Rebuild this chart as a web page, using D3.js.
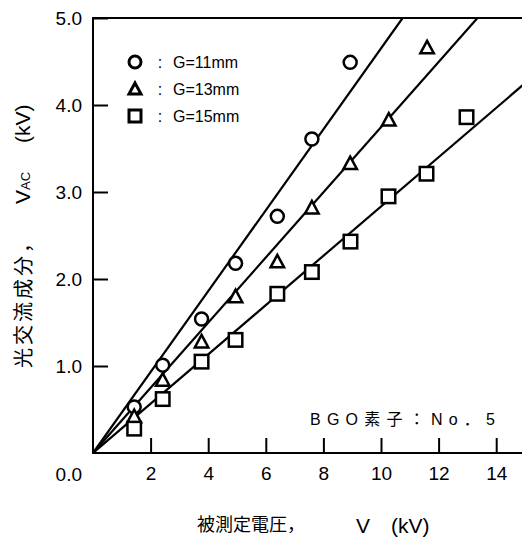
<!DOCTYPE html>
<html>
<head>
<meta charset="utf-8">
<script src="https://cdn.jsdelivr.net/npm/d3@7"></script>
<style>
body { margin: 0; background: #fff; }
text { font-family: "Liberation Sans", Arial, "Noto Sans CJK JP", sans-serif; fill: #000; }
.cjk { font-family: "Noto Sans CJK JP", "Liberation Sans", sans-serif; }
</style>
</head>
<body>
<div class="container"></div>
<script>
// tick values and labels
const xTicks = [2, 4, 6, 8, 10, 12, 14];
const yTicks = [1, 2, 3, 4, 5];
const gapLabels = ['G=11mm', 'G=13mm', 'G=15mm'];

// measured points, one pair of arrays per gap
const xG11 = [1.43, 2.42, 3.77, 4.95, 6.40, 7.60, 8.93];
const yG11 = [0.53, 1.01, 1.54, 2.18, 2.72, 3.61, 4.49];
const xG13 = [1.43, 2.42, 3.77, 4.95, 6.40, 7.60, 8.93, 10.27, 11.60];
const yG13 = [0.42, 0.84, 1.28, 1.80, 2.20, 2.82, 3.33, 3.83, 4.66];
const xG15 = [1.43, 2.42, 3.77, 4.95, 6.40, 7.60, 8.94, 10.26, 11.58, 12.97];
const yG15 = [0.28, 0.62, 1.05, 1.30, 1.83, 2.08, 2.43, 2.95, 3.21, 3.86];

// fitted lines through the origin, end points
const fitEndX = [10.75, 13.35, 15.0];
const fitEndY = [5.0, 5.0, 4.25];

const WIDTH = 522;
const HEIGHT = 537;
const X0 = 93, X1 = 525, Y0 = 453, Y1 = 18;

const svg = d3.select('.container').append('svg')
    .attr('width', WIDTH)
    .attr('height', HEIGHT);

const xScale = d3.scaleLinear().domain([0, 15]).range([X0, X1]);
const yScale = d3.scaleLinear().domain([0, 5]).range([Y0, Y1]);

svg.append('clipPath').attr('id', 'plot')
    .append('rect')
    .attr('x', X0).attr('y', Y1)
    .attr('width', X1 - X0).attr('height', Y0 - Y1);

// frame
svg.append('path')
    .attr('d', `M${X1},${Y1}H${X0}V${Y0}H${X1}`)
    .attr('fill', 'none')
    .attr('stroke', '#000')
    .attr('stroke-width', 2);

const xAxis = d3.axisBottom(xScale)
    .tickValues(xTicks)
    .tickFormat(d3.format('d'))
    .tickSizeInner(-15)
    .tickSizeOuter(0)
    .tickPadding(14);

const yAxis = d3.axisLeft(yScale)
    .tickValues(yTicks)
    .tickFormat(d3.format('.1f'))
    .tickSizeInner(-15)
    .tickSizeOuter(0)
    .tickPadding(11);

const gx = svg.append('g').attr('transform', `translate(0,${Y0})`).call(xAxis);
const gy = svg.append('g').attr('transform', `translate(${X0},0)`).call(yAxis);

[gx, gy].forEach(g => {
    g.select('.domain').remove();
    g.selectAll('line').attr('stroke-width', 2);
    g.selectAll('text')
        .style('font-family', '"Liberation Sans", Arial, sans-serif')
        .style('font-size', '19px');
});

svg.append('text')
    .attr('x', X0 - 11)
    .attr('y', Y0 + 21)
    .attr('text-anchor', 'end')
    .attr('dominant-baseline', 'central')
    .style('font-size', '19px')
    .text(d3.format('.1f')(0));

// fitted lines
const plot = svg.append('g').attr('clip-path', 'url(#plot)');
plot.selectAll('line.fit').data(fitEndX)
    .enter().append('line')
    .attr('class', 'fit')
    .attr('x1', xScale(0))
    .attr('y1', yScale(0))
    .attr('x2', d => xScale(d))
    .attr('y2', (d, i) => yScale(fitEndY[i]))
    .attr('stroke', '#000')
    .attr('stroke-width', 2.2);

// markers
const drawMarker = function (sel, kind, s, sw) {
    sel.each(function () {
        const m = d3.select(this);
        if (kind === 0) {
            m.append('circle').attr('r', s / 2);
        } else if (kind === 1) {
            m.append('path').attr('d', `M0,${-s / 2}L${s / 2},${s / 2 - 1}L${-s / 2},${s / 2 - 1}Z`);
        } else {
            m.append('rect').attr('x', -s / 2).attr('y', -s / 2).attr('width', s).attr('height', s);
        }
        m.selectAll('*').attr('fill', '#fff').attr('stroke', '#000').attr('stroke-width', sw);
    });
};

const series = [[xG11, yG11], [xG13, yG13], [xG15, yG15]];
series.forEach((s, k) => {
    const pts = s[0].map((x, i) => ({ x: x, y: s[1][i] }));
    svg.append('g').selectAll('g').data(pts)
        .enter().append('g')
        .attr('transform', d => `translate(${xScale(d.x)},${yScale(d.y)})`)
        .call(drawMarker, k, k === 0 ? 13 : 13.5, 2.5);
});

// legend
const legend = svg.append('g');
gapLabels.forEach((lab, i) => {
    const row = legend.append('g').attr('transform', `translate(0,${62 + i * 27})`);
    row.append('g').attr('transform', 'translate(135,0)').call(drawMarker, i, 12, 3);
    row.append('text').attr('x', 160).attr('dominant-baseline', 'central')
        .attr('text-anchor', 'middle').style('font-size', '16px').text(':');
    row.append('text').attr('x', 173).attr('dominant-baseline', 'central')
        .style('font-size', '16px').text(lab);
});

// annotation
svg.append('text')
    .attr('x', 310).attr('y', 425)
    .attr('textLength', 185)
    .attr('lengthAdjust', 'spacing')
    .style('font-size', '16px')
    .text('BGO素子：No．5');

// x axis title
svg.append('text').attr('class', 'cjk')
    .attr('x', 197).attr('y', 531)
    .style('font-size', '18px')
    .text('被測定電圧，');
svg.append('text')
    .attr('x', 356).attr('y', 533)
    .style('font-size', '21px')
    .text('V');
svg.append('text')
    .attr('x', 391).attr('y', 533)
    .style('font-size', '21px')
    .text('(kV)');

// y axis title
const yt = function (y) {
    return svg.append('text')
        .attr('transform', `translate(22,${y}) rotate(-90)`)
        .attr('dominant-baseline', 'central');
};
yt(368).attr('class', 'cjk').style('font-size', '20px').style('letter-spacing', '3px').text('光交流成分，');
const vac = yt(204).style('font-size', '21px');
vac.append('tspan').text('V');
vac.append('tspan').attr('dy', 3).style('font-size', '13px').text('AC');
yt(143).style('font-size', '21px').text('(kV)');
</script>
</body>
</html>
